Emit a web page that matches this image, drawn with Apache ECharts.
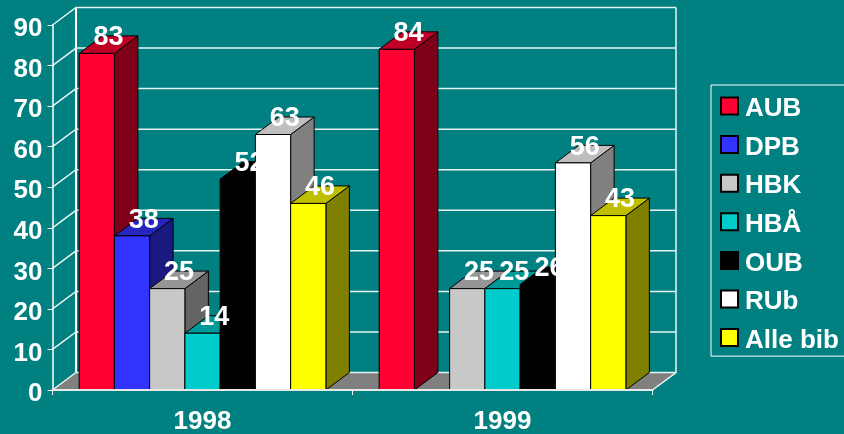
<!DOCTYPE html>
<html>
<head>
<meta charset="utf-8">
<style>html,body{margin:0;padding:0;background:#008080}#c{width:844px;height:434px}</style>
<script src="https://cdn.jsdelivr.net/npm/echarts@6/dist/echarts.min.js"></script>
</head>
<body>
<div id="c"></div>
<script>
const years = ['1998', '1999'];
const aub = [83, 84];
const dpb = [38, null];
const hbk = [25, 25];
const hba = [14, 25];
const oub = [52, 26];
const rub = [63, 56];
const alle = [46, 43];
const yTicks = [0, 10, 20, 30, 40, 50, 60, 70, 80, 90];

const names = ['AUB', 'DPB', 'HBK', 'HBÅ', 'OUB', 'RUb', 'Alle bib'];
const values = [aub, dpb, hbk, hba, oub, rub, alle];
const front = ['#FF0033', '#3333FF', '#C8C8C8', '#00CCCC', '#000000', '#FFFFFF', '#FFFF00'];
const top_ = ['#BF0026', '#2626BF', '#969696', '#009999', '#000000', '#BFBFBF', '#BFBF00'];
const side = ['#7F0019', '#191980', '#646464', '#006666', '#000000', '#808080', '#808000'];

const DX = 23.5, DY = -17.5, SLOT = 0.1175;
const FONT = 'bold 27px "Liberation Sans", Arial, sans-serif';

function pts(a) { return { points: a }; }

function renderWall(params, api) {
  const g = params.coordSys;
  const y = api.coord([0, api.value(0)])[1];
  const xL = g.x, xR = g.x + g.width;
  const line = { stroke: '#E8F4F4', lineWidth: 1.5, fill: null };
  const kids = [];
  if (api.value(0) === 0) {
    kids.push({ type: 'polygon', shape: pts([[xL, y], [xL + DX, y + DY], [xR + DX, y + DY], [xR, y]]),
      style: { fill: '#808080' } });
    kids.push({ type: 'polyline', shape: pts([[xL + DX, g.y + DY], [xL + DX, y + DY]]), style: { stroke: '#fff', lineWidth: 2, fill: null } });
    kids.push({ type: 'polyline', shape: pts([[xR + DX, g.y + DY], [xR + DX, y + DY], [xR, y]]), style: line });
  }
  kids.push({ type: 'polyline', shape: pts([[xL, y], [xL + DX, y + DY], [xR + DX, y + DY]]), style: line });
  return { type: 'group', children: kids };
}

function renderBar(s) {
  return function (params, api) {
    const c = api.coord([api.value(0), api.value(1)]);
    const base = api.coord([api.value(0), 0]);
    const w = api.size([1, 0])[0] * SLOT;
    const x0 = c[0] - 3.5 * w + s * w, x1 = x0 + w, y = c[1], b = base[1];
    const st = { stroke: '#000', lineWidth: 1 };
    return { type: 'group', children: [
      { type: 'polygon', shape: pts([[x1, y], [x1 + DX, y + DY], [x1 + DX, b + DY], [x1, b]]), style: Object.assign({ fill: side[s] }, st) },
      { type: 'polygon', shape: pts([[x0, y], [x0 + DX, y + DY], [x1 + DX, y + DY], [x1, y]]), style: Object.assign({ fill: top_[s] }, st) },
      { type: 'rect', shape: { x: x0, y: y, width: w, height: b - y }, style: Object.assign({ fill: front[s] }, st) }
    ] };
  };
}

function renderLabel(params, api) {
  const c = api.coord([api.value(0), api.value(1)]);
  const w = api.size([1, 0])[0] * SLOT;
  const s = api.value(2);
  return { type: 'text', style: {
    text: String(api.value(1)),
    x: c[0] - 3.5 * w + s * w + w / 2 + DX / 2,
    y: c[1] + DY / 2 - 7,
    fill: '#fff', font: FONT, align: 'center', verticalAlign: 'middle' } };
}

const pairs = s => values[s].map((v, i) => [i, v]).filter(p => p[1] !== null);
const labelData = [];
values.forEach((_, s) => pairs(s).forEach(p => labelData.push([p[0], p[1], s])));

const series = [{
  type: 'custom', name: 'walls', z: 1, silent: true, coordinateSystem: 'cartesian2d',
  renderItem: renderWall, encode: { y: 0 }, data: yTicks.map(v => [v])
}];
names.forEach((n, s) => series.push({
  type: 'custom', name: n, z: 2 + s, coordinateSystem: 'cartesian2d',
  renderItem: renderBar(s), encode: { x: 0, y: 1 }, data: pairs(s),
  itemStyle: { color: front[s], borderColor: '#000', borderWidth: 1 }
}));
series.push({
  type: 'custom', name: 'labels', z: 20, silent: true, coordinateSystem: 'cartesian2d',
  renderItem: renderLabel, encode: { x: 0, y: 1 }, data: labelData
});

const labelFont = { color: '#fff', fontFamily: '"Liberation Sans"', fontWeight: 'bold', fontSize: 26 };

const chart = echarts.init(document.getElementById('c'), null, { renderer: 'canvas' });
chart.setOption({
  animation: false,
  backgroundColor: '#008080',
  grid: { left: 52.5, right: 191.5, top: 25, bottom: 44, outerBoundsMode: 'none' },
  legend: {
    data: names, orient: 'vertical', left: 711, top: 85, icon: 'rect',
    itemWidth: 17, itemHeight: 17, itemGap: 12.6, selectedMode: false,
    padding: [11, 20, 2.5, 9], borderColor: '#fff', borderWidth: 1,
    formatter: '{a|{name}}',
    textStyle: Object.assign({}, labelFont, { rich: { a: Object.assign({}, labelFont, { padding: [6, 0, 0, 2] }) } })
  },
  xAxis: {
    type: 'category', data: years, z: 10,
    axisLine: { lineStyle: { color: '#E8E8E8', width: 2 } },
    axisTick: { show: true, length: 5, lineStyle: { color: '#fff', width: 1 } },
    axisLabel: Object.assign({}, labelFont, { margin: 19 })
  },
  yAxis: {
    type: 'value', min: 0, max: 90, interval: 10, z: 10,
    axisLine: { show: true, lineStyle: { color: '#fff', width: 1.5 } },
    axisTick: { show: true, length: 5, lineStyle: { color: '#fff', width: 1 } },
    splitLine: { show: false },
    axisLabel: Object.assign({}, labelFont, {
      margin: 10, formatter: '{a|{value}}',
      rich: { a: Object.assign({}, labelFont, { padding: [8, 0, 0, 0] }) }
    })
  },
  series: series
});
</script>
</body>
</html>
